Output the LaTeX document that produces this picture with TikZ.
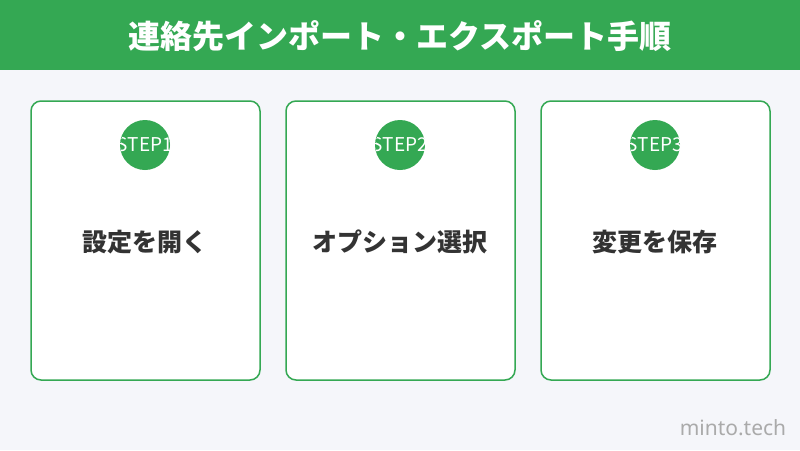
\documentclass[tikz,border=0pt]{standalone}
\usepackage{fontspec}
\setmainfont{Noto Sans CJK JP}
\newfontfamily\latinfont{Noto Sans}

\definecolor{mgreen}{HTML}{34A853}
\definecolor{bggray}{HTML}{F5F6FA}
\definecolor{txtdark}{HTML}{333333}
\definecolor{markgray}{HTML}{AAAAAA}

\begin{document}
\begin{tikzpicture}[x=1pt, y=-1pt,
    title/.style={text=white, font=\fontsize{32}{37}\selectfont\bfseries},
    card/.style={draw=mgreen, line width=1.5pt, fill=white, rounded corners=10pt,
      minimum width=229pt, minimum height=279pt, inner sep=0pt},
    badge/.style={circle, fill=mgreen, minimum size=50pt, inner sep=0pt},
    steptext/.style={text=white, font=\fontsize{19}{22}\selectfont},
    cardtext/.style={text=txtdark, font=\fontsize{25}{29}\selectfont\bfseries},
    site/.style={text=markgray, font=\latinfont\fontsize{21}{24}\selectfont}]
  \useasboundingbox (0,0) rectangle (800,450);
  \fill[bggray] (0,0) rectangle (800,450);
  \fill[mgreen] (0,0) rectangle (800,70);
  \node[title] (ttl) at (400,36) {連絡先インポート・エクスポート手順};

  \node[card] (card1) at (145.5,240.5) {};
  \node[card] (card2) at (400.5,240.5) {};
  \node[card] (card3) at (655.5,240.5) {};

  \node[badge] (bdg1) at (145,145) {};
  \node[badge] (bdg2) at (400,145) {};
  \node[badge] (bdg3) at (655,145) {};
  \begin{scope}
    \clip (bdg1) circle (25pt);
    \node[steptext] (stp1) at (bdg1) {STEP1};
  \end{scope}
  \begin{scope}
    \clip (bdg2) circle (25pt);
    \node[steptext] (stp2) at (bdg2) {STEP2};
  \end{scope}
  \begin{scope}
    \clip (bdg3) circle (25pt);
    \node[steptext] (stp3) at (bdg3) {STEP3};
  \end{scope}

  \node[cardtext] (lab1) at (145,242) {設定を開く};
  \node[cardtext] (lab2) at (400,242) {オプション選択};
  \node[cardtext] (lab3) at (655,242) {変更を保存};

  \node[site] (mark) at (733,428) {minto.tech};
\end{tikzpicture}
\end{document}
